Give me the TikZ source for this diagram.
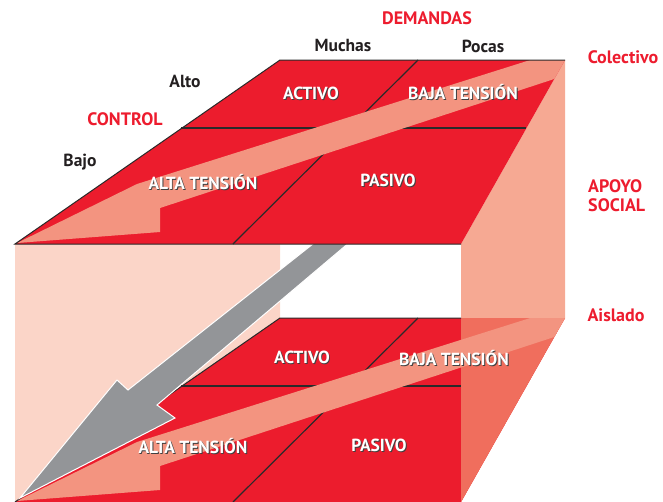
\documentclass[tikz,border=0pt]{standalone}
\usepackage{fontspec}
\setmainfont{PT Sans}
\definecolor{cred}{HTML}{EC1C2D}
\definecolor{bandc}{HTML}{F39480}
\definecolor{rightc}{HTML}{F6A993}
\definecolor{leftc}{HTML}{FBD5C8}
\definecolor{coralc}{HTML}{F06E5D}
\definecolor{greyc}{HTML}{939598}
\definecolor{edgec}{HTML}{2A2A2A}
\definecolor{labred}{HTML}{ED1C2E}
\definecolor{labdark}{HTML}{231F20}
\newcommand\celllab[3]{%
  \node[shadowtxt,xshift=0.9pt,yshift=-0.9pt] at (#1) {#3};
  \node[celltxt] (#2) at (#1) {#3};}
\begin{document}
\begin{tikzpicture}[x=1pt,y=-1pt,
  edgeline/.style={draw=edgec,line width=1pt},
  divline/.style={draw=edgec,line width=1.2pt},
  celltxt/.style={text=white,inner sep=0pt,font=\fontsize{17.5}{17.5}\selectfont\bfseries},
  shadowtxt/.style={text=black!75,inner sep=0pt,font=\fontsize{17.5}{17.5}\selectfont\bfseries},
  darklab/.style={text=labdark,inner sep=0pt,font=\fontsize{17.5}{17.5}\selectfont\bfseries},
  redlab/.style={text=labred,inner sep=0pt,font=\fontsize{18}{19}\selectfont\bfseries},
  bandpoly/.style={fill=bandc},
  greyarrow/.style={fill=greyc,draw=white,line width=1pt,line join=miter}]
\useasboundingbox (0,0) rectangle (663,501);
% corners of the upper face
\coordinate (TL) at (280,60);
\coordinate (TR) at (565,60);
\coordinate (BR) at (461,244);
\coordinate (BL) at (15,244);
% corners of the lower face
\coordinate (LTL) at (280,318);
\coordinate (LTR) at (565,318);
\coordinate (LBR) at (461,502);
\coordinate (LBL) at (15,502);
\coordinate (LX) at (461,318);
% side faces
\fill[leftc] (TL) -- (LTL) -- (LBL) -- (BL) -- cycle;
\fill[rightc] (TR) -- (LTR) -- (LBR) -- (BR) -- cycle;
% lower face
\fill[cred] (LTL) -- (LTR) -- (LBR) -- (LBL) -- cycle;
\fill[coralc] (LX) -- (LTR) -- (LBR) -- cycle;
\coordinate (LML) at (181,386);
\coordinate (LMR) at (461,386);
\coordinate (LDT) at (418,318);
\coordinate (LDB) at (233,502);
\draw[divline] (LML) -- (LMR);
\draw[divline] (LDT) -- (LDB);
\begin{scope}
  \clip (LTL) -- (LTR) -- (LBR) -- (LBL) -- cycle;
  \fill[bandpoly,shift={(0,258)}] (17,243) -- (137,184) -- (600,38) -- (600,64) -- (160,208) -- (160,232) -- cycle;
\end{scope}
\draw[edgeline] (LX) -- (LTL) -- (LBL);
% grey arrow
\coordinate (GA1) at (323,236);
\coordinate (GA2) at (128,390);
\coordinate (GA3) at (117,380);
\coordinate (GTIP) at (20,498);
\coordinate (GA4) at (175,418);
\coordinate (GA5) at (157,405);
\coordinate (GA6) at (357,236);
\draw[greyarrow] (GA1) -- (GA2) -- (GA3) -- (GTIP) -- (GA4) -- (GA5) -- (GA6) -- cycle;
% upper face
\fill[cred] (TL) -- (TR) -- (BR) -- (BL) -- cycle;
\coordinate (ML) at (181,128);
\coordinate (MR) at (526,128);
\coordinate (DT) at (418,60);
\coordinate (DB) at (233,244);
\draw[divline] (ML) -- (MR);
\draw[divline] (DT) -- (DB);
\begin{scope}
  \clip (TL) -- (TR) -- (BR) -- (BL) -- cycle;
  \fill[bandpoly] (17,243) -- (137,184) -- (600,38) -- (600,64) -- (160,208) -- (160,232) -- cycle;
\end{scope}
\draw[edgeline] (BR) -- (BL) -- (TL) -- (TR);
% cell labels
\celllab{311,93}{uact}{ACTIVO}
\celllab{463,92}{ubaja}{BAJA TENSIÓN}
\celllab{203,182}{ualta}{ALTA TENSIÓN}
\celllab{388,180}{upas}{PASIVO}
\celllab{302,357}{lact}{ACTIVO}
\celllab{454,358}{lbaja}{BAJA TENSIÓN}
\celllab{193,446}{lalta}{ALTA TENSIÓN}
\celllab{379,445}{lpas}{PASIVO}
% outside labels
\node[redlab] (dem) at (427,18) {DEMANDAS};
\node[darklab] (much) at (343,45) {Muchas};
\node[darklab] (poc) at (483,46) {Pocas};
\node[redlab] (col) at (623,57) {Colectivo};
\node[darklab] (alto) at (185,81) {Alto};
\node[redlab] (ctl) at (125,119) {CONTROL};
\node[darklab] (bajo) at (80,162) {Bajo};
\node[redlab,anchor=west,align=left] (apo) at (588,196) {APOYO\\SOCIAL};
\node[redlab] (ais) at (616,315) {Aislado};
\end{tikzpicture}
\end{document}
